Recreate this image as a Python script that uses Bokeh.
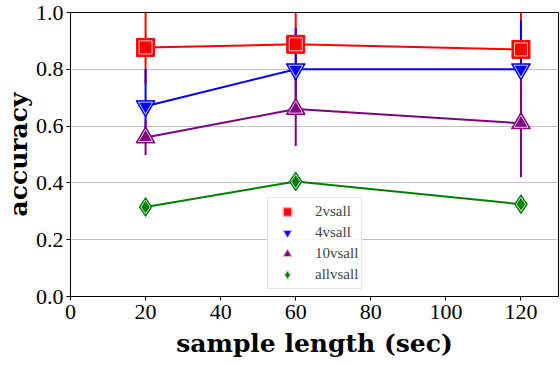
from bokeh.plotting import figure
from bokeh.models import Legend, LegendItem, FixedTicker, NumeralTickFormatter, Range1d
from bokeh.embed import file_html
from bokeh.resources import INLINE

# ---- data ----
x = [20, 60, 120]
names = ["2vsall", "4vsall", "10vsall", "allvsall"]
acc_2 = [0.877, 0.888, 0.870]
acc_4 = [0.670, 0.800, 0.800]
acc_10 = [0.560, 0.660, 0.610]
acc_all = [0.315, 0.405, 0.325]
err_2 = [0.13, 0.13, 0.13]
err_4 = [0.13, 0.145, 0.172]
err_10 = [0.062, 0.13, 0.19]
err_all = [0.02, 0.02, 0.02]
x_ticks = [0, 20, 40, 60, 80, 100, 120]
y_ticks = [0.0, 0.2, 0.4, 0.6, 0.8, 1.0]

series = [
    (names[0], acc_2, err_2, "#ff0000", "square", 18, "solid"),
    (names[1], acc_4, err_4, "#0000ff", "inverted_triangle", 19, "dashed"),
    (names[2], acc_10, err_10, "#800080", "triangle", 19, "dashdot"),
    (names[3], acc_all, err_all, "#008000", "diamond", 19, "dotted"),
]

p = figure(width=560, height=366, output_backend="svg", toolbar_location=None,
           x_range=Range1d(0, 130), y_range=Range1d(0, 1),
           min_border_left=69, min_border_right=2, min_border_top=12, min_border_bottom=70)

p.xgrid.visible = False
p.ygrid.grid_line_color = "#c0c0c0"
p.ygrid.grid_line_width = 1
p.outline_line_color = "black"
p.outline_line_alpha = 1
p.outline_line_width = 1
p.background_fill_color = "white"

for ax in (p.xaxis[0], p.yaxis[0]):
    ax.major_label_text_font = "Liberation Serif"
    ax.major_label_text_font_size = "22px"
    ax.major_label_text_color = "black"
    ax.axis_label_text_font = "DejaVu Serif"
    ax.axis_label_text_font_style = "bold"
    ax.axis_label_text_font_size = "25px"
    ax.axis_label_text_color = "black"
    ax.minor_tick_line_color = None
    ax.major_tick_out = 4
    ax.major_tick_in = 0
    ax.axis_line_color = "black"
    ax.major_tick_line_color = "black"

p.xaxis.ticker = FixedTicker(ticks=x_ticks)
p.yaxis.ticker = FixedTicker(ticks=y_ticks)
p.yaxis.formatter = NumeralTickFormatter(format="0.0")
p.xaxis.axis_label = "sample length (sec)"
p.yaxis.axis_label = "accuracy"
p.xaxis.major_label_standoff = 4
p.yaxis.major_label_standoff = 3
p.xaxis.axis_label_standoff = 7
p.yaxis.axis_label_standoff = 0

# error bars first
for name, acc, err, col, mk, sz, dash in series:
    lo = [a - e for a, e in zip(acc, err)]
    hi = [a + e for a, e in zip(acc, err)]
    p.segment(x0=x, y0=lo, x1=x, y1=hi, line_color=col, line_width=2)

for name, acc, err, col, mk, sz, dash in series:
    p.line(x, acc, line_color=col, line_width=2)

legend_items = []
for i, (name, acc, err, col, mk, sz, dash) in enumerate(series):
    m1 = p.scatter(x, acc, marker=mk, size=sz, fill_color=col, line_color=col, line_width=1)
    m2 = p.scatter(x, acc, marker=mk, size=sz - 5, fill_color=None, line_color="white", line_width=0.8)
    ll = p.line([], [], line_color=col, line_width=2, line_dash=dash)
    legend_items.append(LegendItem(label=name, renderers=[ll, m1, m2]))

legend = Legend(items=legend_items, location=(197, 7),
                glyph_width=32, glyph_height=21, spacing=0, padding=3,
                label_text_font="Liberation Serif", label_text_font_size="15px",
                label_standoff=12, label_height=20,
                border_line_color="#cccccc", border_line_width=1,
                background_fill_color="white", background_fill_alpha=0.85,
                margin=0)
p.add_layout(legend, "center")

open("out.html", "w").write(file_html(p, INLINE))
